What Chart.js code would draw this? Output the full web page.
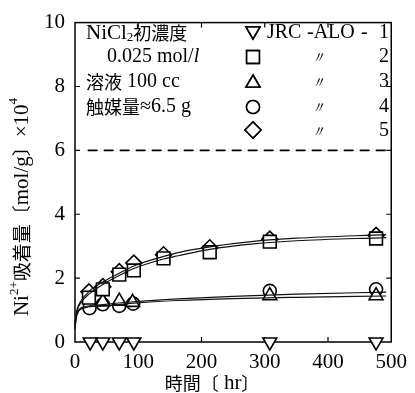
<!DOCTYPE html>
<html><head><meta charset="utf-8">
<script src="https://cdn.jsdelivr.net/npm/chart.js@4.4.1/dist/chart.umd.min.js"></script>
<style>html,body{margin:0;padding:0;background:#fff}canvas{display:block}</style>
</head><body>
<canvas id="c" width="415" height="393"></canvas>
<script>
// ---- data ----
const xTicks = [0, 100, 200, 300, 400, 500];
const yTicks = [0, 2, 4, 6, 8, 10];
// JRC-ALO-1 (down triangles)
const t1 = [24, 44, 70, 93, 308, 476];
const s1 = [0, 0, 0, 0, 0, 0];
// JRC-ALO-2 (squares) and -5 (diamonds)
const t25 = [22, 44, 70, 93, 140, 213, 308, 476];
const s2 = [1.39, 1.65, 2.11, 2.24, 2.62, 2.81, 3.14, 3.24];
const s5 = [1.57, 1.73, 2.20, 2.47, 2.73, 2.95, 3.22, 3.34];
// JRC-ALO-3 (triangles) and -4 (circles)
const t3 = [44, 70, 91, 308, 476];
const s3 = [1.26, 1.28, 1.24, 1.45, 1.45];
const t4 = [23, 44, 70, 92, 308, 476];
const s4 = [1.06, 1.18, 1.13, 1.20, 1.60, 1.65];
// fitted curves drawn in the figure
const cx25 = [0, 3, 10, 22, 44, 70, 93, 140, 163, 213, 282, 350, 492];
const c5 = [0.60, 1.00, 1.30, 1.58, 1.88, 2.15, 2.38, 2.68, 2.80, 2.98, 3.15, 3.25, 3.36];
const c2 = [0.55, 0.95, 1.25, 1.50, 1.80, 2.08, 2.30, 2.60, 2.70, 2.90, 3.07, 3.17, 3.27];
const cx34 = [0, 2, 6, 15, 44, 93, 163, 250, 350, 492];
const c4 = [0.45, 0.80, 1.00, 1.10, 1.17, 1.26, 1.35, 1.43, 1.50, 1.56];
const c3 = [0.40, 0.75, 0.97, 1.07, 1.13, 1.22, 1.30, 1.36, 1.40, 1.44];
// saturation level (dashed)
const dashX = [20, 500];
const dashY = [6, 6];

const pts = (xs, ys) => xs.map((x, i) => ({x, y: ys[i]}));
const SERIF = "'Liberation Serif','DejaVu Serif',serif";
const CJK = "'Noto Sans CJK JP',sans-serif";

function curve(xs, ys) {
  return {data: pts(xs, ys), showLine: true, pointRadius: 0, borderColor: '#111',
    borderWidth: 1.2, cubicInterpolationMode: 'monotone', fill: false, clip: false};
}
function marks(xs, ys, style, r, rot) {
  return {data: pts(xs, ys), showLine: false, pointStyle: style, pointRadius: r,
    pointRotation: rot || 0, pointBorderColor: '#000', pointBackgroundColor: '#fff',
    pointBorderWidth: 1.6, clip: false};
}

function runs(ctx, x, y, parts) {
  ctx.textBaseline = 'middle'; ctx.textAlign = 'left';
  for (const [t, f, dy] of parts) {
    ctx.font = f;
    ctx.fillText(t, x, y + (dy || 0));
    x += ctx.measureText(t).width;
  }
  return x;
}
function runsWidth(ctx, parts) {
  let w = 0;
  for (const [t, f] of parts) { ctx.font = f; w += ctx.measureText(t).width; }
  return w;
}
function drawMarker(ctx, style, x, y, r, rot) {
  Chart.helpers.drawPoint(ctx, {pointStyle: style, radius: r, rotation: rot || 0, borderWidth: 1.6}, x, y);
  ctx.fill(); ctx.stroke();
}

const framePlugin = {
  id: 'frame',
  beforeDatasetsDraw(chart) {
    const {ctx, chartArea: a, scales: {x, y}} = chart;
    ctx.save();
    ctx.strokeStyle = '#000'; ctx.lineWidth = 1.5;
    ctx.strokeRect(a.left, a.top, a.right - a.left, a.bottom - a.top);
    ctx.lineWidth = 1.2;
    const L = 5;
    ctx.beginPath();
    for (const v of xTicks.slice(1, -1)) {
      const px = x.getPixelForValue(v);
      ctx.moveTo(px, a.bottom); ctx.lineTo(px, a.bottom - L);
      ctx.moveTo(px, a.top); ctx.lineTo(px, a.top + L);
    }
    for (const v of yTicks.slice(1, -1)) {
      const py = y.getPixelForValue(v);
      ctx.moveTo(a.left, py); ctx.lineTo(a.left + L, py);
      ctx.moveTo(a.right, py); ctx.lineTo(a.right - L, py);
    }
    ctx.stroke();
    ctx.restore();
  },
  afterDraw(chart) {
    const {ctx} = chart;
    ctx.save();
    ctx.fillStyle = '#000'; ctx.strokeStyle = '#000';
    const f = (s, fam, st) => (st || '') + ' ' + s + 'px ' + (fam || SERIF);
    // left text block
    runs(ctx, 86, 33, [['NiCl', f(21)], ['2', f(13), 5], ['初濃度', f(18, CJK)]]);
    runs(ctx, 107, 57, [['0.025 mol/', f(20)], ['l', f(20, SERIF, 'italic')]]);
    runs(ctx, 86, 82, [['溶液', f(18, CJK)], [' 100 cc', f(20)]]);
    runs(ctx, 86, 107, [['触媒量', f(18, CJK)], ['≈6.5 g', f(20)]]);
    // right legend
    ctx.fillStyle = '#fff';
    drawMarker(ctx, 'triangle', 253, 31, 8, 180);
    drawMarker(ctx, 'rect', 253, 57, 9);
    drawMarker(ctx, 'triangle', 253, 83, 8);
    drawMarker(ctx, 'circle', 253, 107, 6.5);
    drawMarker(ctx, 'rectRot', 253, 130, 8);
    ctx.fillStyle = '#000';
    runs(ctx, 267, 33, [['JRC', f(20)]]);
    runs(ctx, 307, 33, [['-ALO', f(20)]]);
    runs(ctx, 361, 33, [['-', f(20)]]);
    ctx.textAlign = 'right'; ctx.font = f(20);
    ctx.fillText('1', 389, 33);
    const nums = ['2', '3', '4', '5'];
    const ys = [57, 82, 107, 131];
    nums.forEach((n, i) => {
      ctx.textAlign = 'right'; ctx.font = f(20); ctx.fillText(n, 389, ys[i]);
      ctx.textAlign = 'center'; ctx.font = f(16, SERIF, 'italic'); ctx.fillText('〃', 318, ys[i] + 2);
    });
    // x title
    const xt = [['時間', f(18, CJK)], ['〔', f(18, CJK)], [' hr', f(21)], ['〕', f(18, CJK)]];
    const xw = runsWidth(ctx, xt);
    runs(ctx, 212 - xw / 2, 383, xt);
    // y title
    ctx.translate(22, 207);
    ctx.rotate(-Math.PI / 2);
    const yt = [['Ni', f(21)], ['2+', f(13), -7], ['吸着量', f(19, CJK)], ['〔', f(19, CJK)], ['mol/g', f(21)], ['〕', f(19, CJK)], ['×10', f(21)], ['4', f(13), -8]];
    const yw = runsWidth(ctx, yt);
    runs(ctx, -yw / 2, 0, yt);
    ctx.restore();
  }
};

new Chart(document.getElementById('c'), {
  type: 'scatter',
  data: {
    datasets: [
      {data: pts(dashX, dashY), showLine: true, pointRadius: 0, borderColor: '#000',
       borderWidth: 1.8, borderDash: [10, 6], fill: false},
      curve(cx25, c5), curve(cx25, c2), curve(cx34, c4), curve(cx34, c3),
      marks(t25, s2, 'rect', 9),
      marks(t25, s5, 'rectRot', 8),
      marks(t3, s3, 'triangle', 8),
      marks(t4, s4, 'circle', 6.5),
      marks(t1, s1, 'triangle', 8, 180)
    ]
  },
  options: {
    responsive: false, animation: false, events: [],
    layout: {padding: 0},
    plugins: {legend: {display: false}, tooltip: {enabled: false}},
    scales: {
      x: {type: 'linear', position: 'bottom', min: 0, max: 500,
          afterBuildTicks: s => { s.ticks = xTicks.map(v => ({value: v})); },
          afterFit: s => { s.height = 51; },
          grid: {display: false, drawTicks: false}, border: {display: false},
          ticks: {padding: 8, color: '#000', font: {family: SERIF, size: 21}, maxRotation: 0}},
      y: {type: 'linear', position: 'left', min: 0, max: 10,
          afterBuildTicks: s => { s.ticks = yTicks.map(v => ({value: v})); },
          afterFit: s => { s.width = 75; },
          grid: {display: false, drawTicks: false}, border: {display: false},
          ticks: {padding: 10, color: '#000', font: {family: SERIF, size: 21}}},
      xTop: {type: 'linear', position: 'top', min: 0, max: 500,
          afterFit: s => { s.height = 17; },
          grid: {display: false, drawTicks: false}, border: {display: false}, ticks: {display: false}},
      yRight: {type: 'linear', position: 'right', min: 0, max: 10,
          afterFit: s => { s.width = 18; },
          grid: {display: false, drawTicks: false}, border: {display: false}, ticks: {display: false}}
    }
  },
  plugins: [framePlugin]
});
</script>
</body></html>
